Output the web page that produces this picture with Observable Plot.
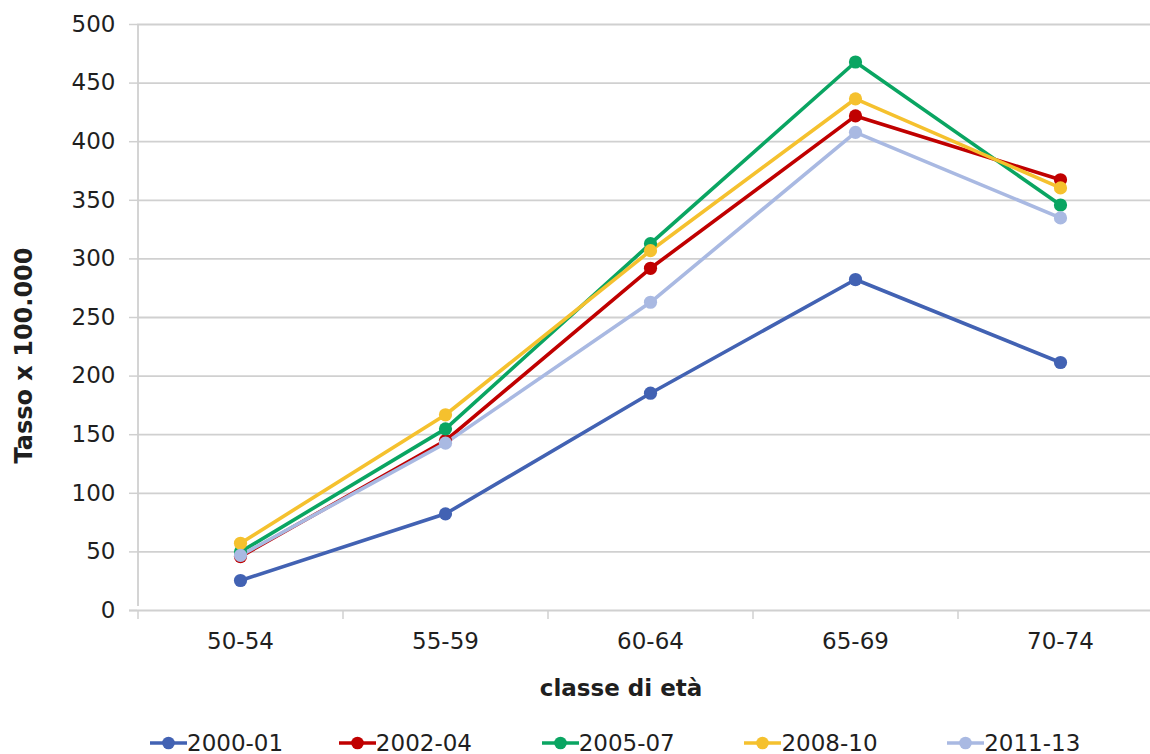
<!DOCTYPE html>
<html>
<head>
<meta charset="utf-8">
<script src="https://cdn.jsdelivr.net/npm/d3@7"></script>
<script src="https://cdn.jsdelivr.net/npm/@observablehq/plot@0.6"></script>
<style>
  html, body { margin: 0; padding: 0; background: #fff; }
  body { width: 1150px; height: 754px; overflow: hidden; font-family: "DejaVu Sans", Verdana, sans-serif; }
  #legend { display: flex; align-items: center; height: 40px; margin-top: 19px; margin-left: 150px; font-size: 23px; color: #1f1f1f; }
  .item { display: flex; align-items: center; width: 204px; }
  .item:first-child { width: 190px; }
  .item svg { margin-right: 0px; }
</style>
</head>
<body>
<div id="chart"></div>
<div id="legend"></div>
<script>
const categories = ["50-54", "55-59", "60-64", "65-69", "70-74"];
const seriesNames = ["2000-01", "2002-04", "2005-07", "2008-10", "2011-13"];
const seriesColors = ["#4262b3", "#c00000", "#0aa562", "#f5c12e", "#a9b9e2"];
const v2000_01 = [25.6, 82.5, 185.4, 282.4, 211.6];
const v2002_04 = [46, 145, 292, 422, 367.5];
const v2005_07 = [50, 155, 313, 468, 346];
const v2008_10 = [57.4, 167, 307, 436.6, 360.6];
const v2011_13 = [47, 142.8, 263, 408, 335];
const yTicks = [0, 50, 100, 150, 200, 250, 300, 350, 400, 450, 500];
const xLabel = "classe di età";
const yLabel = "Tasso x 100.000";

const seriesValues = [v2000_01, v2002_04, v2005_07, v2008_10, v2011_13];
const data = seriesNames.flatMap((s, i) =>
  categories.map((c, j) => ({series: s, cat: c, value: seriesValues[i][j]})));

const W = 1150, H = 704;
const mL = 137, mT = 24, mB = H - 610;
const xRange = [mL, mL + 1025];
const step = (xRange[1] - xRange[0]) / categories.length;
const axisColor = "#d0d0d0";
const textColor = "#1f1f1f";

const chart = Plot.plot({
  width: W,
  height: H,
  marginLeft: mL,
  marginRight: 0,
  marginTop: mT,
  marginBottom: mB,
  style: {fontFamily: "DejaVu Sans, Verdana, sans-serif", fontSize: "23px", color: textColor, background: "#fff"},
  x: {type: "point", domain: categories, range: xRange, padding: 0.5},
  y: {domain: [0, 500], range: [610, mT]},
  color: {domain: seriesNames, range: seriesColors},
  marks: [
    Plot.gridY(yTicks.filter(d => d > 0), {stroke: axisColor, strokeOpacity: 1, strokeWidth: 1.8}),
    Plot.axisY(yTicks, {tickSize: 8, tickPadding: 14, stroke: axisColor, strokeOpacity: 1, strokeWidth: 1.5, fill: textColor, label: null}),
    Plot.axisX({tickSize: 9, text: null, dx: -step / 2, stroke: axisColor, strokeOpacity: 1, strokeWidth: 1.5, label: null}),
    Plot.axisX({tickSize: 0, tickPadding: 22, fill: textColor, label: null}),
    Plot.ruleX([categories[0]], {dx: -step / 2, y1: 0, y2: 500, stroke: axisColor, strokeWidth: 1.8, insetTop: -4}),
    Plot.ruleY([0], {stroke: axisColor, strokeWidth: 2, insetLeft: -8}),
    Plot.line(data, {x: "cat", y: "value", z: "series", stroke: "series", strokeWidth: 3.6}),
    Plot.dot(data, {x: "cat", y: "value", fill: "series", r: 6.6}),
    Plot.text([xLabel], {frameAnchor: "bottom", dy: 85, dx: -23, fontWeight: "bold", fontSize: 23, fill: textColor}),
    Plot.text([yLabel], {frameAnchor: "left", textAnchor: "middle", rotate: -90, dx: -113, dy: 38, fontWeight: "bold", fontSize: 24, fill: textColor})
  ]
});
document.getElementById("chart").append(chart);

const legend = document.getElementById("legend");
seriesNames.forEach((s, i) => {
  const item = document.createElement("div");
  item.className = "item";
  item.innerHTML = `<svg width="37" height="16"><line x1="0" y1="8" x2="37" y2="8" stroke="${seriesColors[i]}" stroke-width="3.6"/><circle cx="18.5" cy="8" r="6.3" fill="${seriesColors[i]}"/></svg><span>${s}</span>`;
  legend.append(item);
});
</script>
</body>
</html>
